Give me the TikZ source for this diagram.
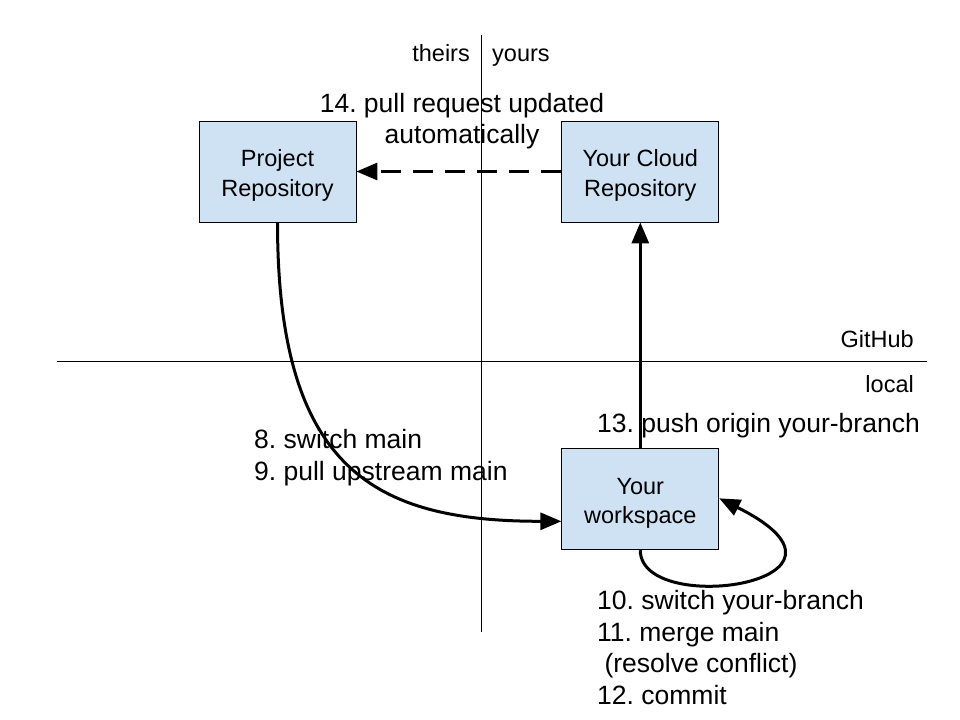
\documentclass[tikz,border=0pt]{standalone}
\usepackage{fontspec}
\setmainfont{Liberation Sans}
\usetikzlibrary{positioning, arrows.meta}
\definecolor{boxblue}{HTML}{CFE2F3}

\begin{document}
\frenchspacing
\begin{tikzpicture}[
                    x=1bp, y=-1bp,
                    node distance=205bp,
                    >={Triangle[length=21bp,width=17bp]},
                    repo/.style={draw, fill=boxblue, line width=0.8bp,
                        minimum width=157bp, minimum height=101bp,
                        text height=49bp, text depth=0pt,
                        align=center, font=\fontsize{23.5bp}{29.5bp}\selectfont},
                    note/.style={inner sep=0pt, align=left,
                        font=\fontsize{26.5bp}{31.5bp}\selectfont},
                    side/.style={inner sep=0pt,
                        font=\fontsize{23.5bp}{28bp}\selectfont},
                    flow/.style={->, line width=3bp},
                ]
                \useasboundingbox (0,0) rectangle (960,720);

                % quadrant lines
                \draw[line width=1bp] (481,35) -- (481,632);
                \draw[line width=1bp] (57,361) -- (927,361);

                \node[side,anchor=base east] (theirs) at (470,62) {theirs};
                \node[side,anchor=base west] (yours) at (492,62) {yours};
                \node[side,anchor=base east] (github) at (914,347) {GitHub};
                \node[side,anchor=base east] (local) at (914,392) {local};

                \node[repo] (proj) at (277.5,171.5) {Project\\Repository};
                \node[repo,right=of proj] (cloud) {Your Cloud\\Repository};
                \node[repo,below=226bp of cloud] (ws) {Your\\workspace};

                \draw[flow,dash pattern=on 20bp off 12bp] (cloud) -- (proj);
                \draw[flow] (ws) -- (cloud);
                \draw[flow] (proj.south) .. controls +(0,248) and +(-186,0) .. ([yshift=-22bp]ws.west);
                \draw[flow] (ws.south) .. controls +(0,68) and +(168,84) .. ([yshift=1bp]ws.east);

                % multi-line labels sit on their last baseline
                \node[note,align=center,anchor=base] (l14) at (462,144) {14. pull request updated\\automatically};
                \node[note,anchor=base west] (l13) at (597,432) {13. push origin your-branch};
                \node[note,anchor=base west] (l8) at (254,480) {8. switch main\\9. pull upstream main};
                \node[note,anchor=base west] (l10) at (597,704) {10. switch your-branch\\11. merge main\\\ (resolve conflict)\\12. commit};
            \end{tikzpicture}
\end{document}
